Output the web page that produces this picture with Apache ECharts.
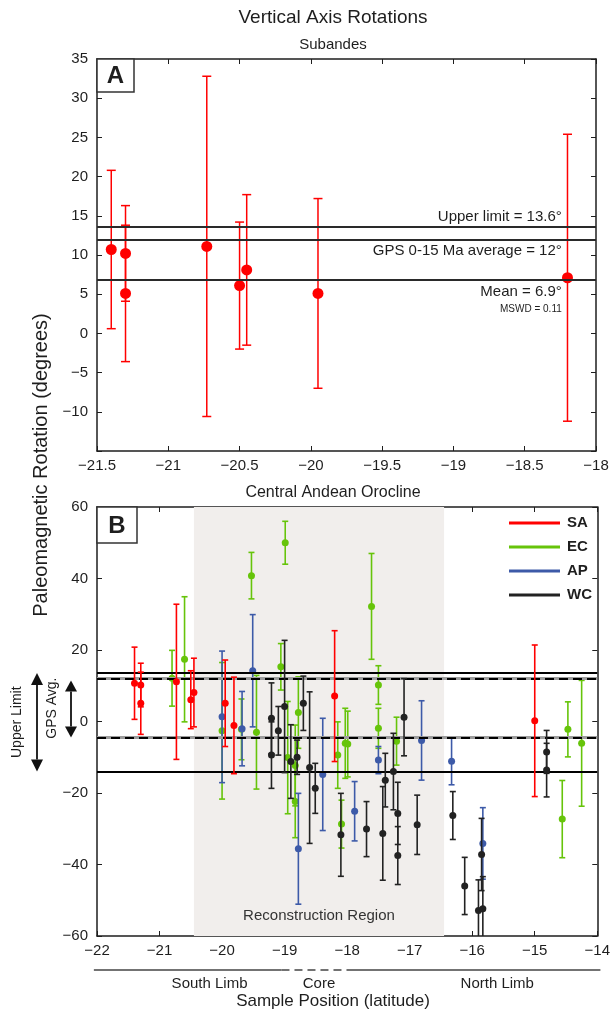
<!DOCTYPE html>
<html>
<head>
<meta charset="utf-8">
<script src="https://cdn.jsdelivr.net/npm/echarts@6/dist/echarts.min.js"></script>
<style>
  html, body { margin: 0; padding: 0; background: #fff; }
  #main { width: 613px; height: 1022px; }
</style>
</head>
<body>
<div id="main"></div>
<script>
// ---- Panel A: Subandes rotations (latitude, rotation, 2-sigma error) ----
const subLat = [-21.4, -21.3, -21.3, -20.73, -20.5, -20.45, -19.95, -18.2];
const subRot = [10.7, 10.2, 5.1, 11.1, 6.1, 8.1, 5.1, 7.1];
const subErr = [10.1, 6.1, 8.7, 21.7, 8.1, 9.6, 12.1, 18.3];
const upperLimit = 13.6;
const gpsAverage = 12;
const meanRotation = 6.9;
const refLabels = ['Upper limit = 13.6\u00b0', 'GPS 0-15 Ma average = 12\u00b0', 'Mean = 6.9\u00b0', 'MSWD = 0.11'];

// ---- Panel B: Central Andean Orocline, by tectonic domain ----
const saLat = [-21.4, -21.3, -21.3, -20.73, -20.5, -20.45, -19.95, -19.81, -18.2, -15.0];
const saRot = [10.7, 10.2, 5.1, 11.1, 6.1, 8.1, 5.1, -1.1, 7.1, 0.2];
const saErr = [10.1, 6.1, 8.7, 21.7, 8.1, 9.6, 12.1, 13.5, 18.3, 21.2];

const ecLat = [-20.8, -20.6, -20.0, -19.69, -19.53, -19.45, -19.06, -18.99, -18.95, -18.83, -18.83, -18.78,
               -18.15, -18.09, -18.03, -17.99, -17.61, -17.5, -17.5, -17.21, -14.56, -14.47, -14.25];
const ecRot = [12.1, 17.4, -2.6, -2.2, 40.8, -3.0, 15.3, 50.0, -10.1, -12.3, -22.4, 2.5,
               -9.4, -28.7, -6.1, -6.3, 32.2, 10.2, -1.9, -5.5, -27.3, -2.2, -6.1];
const ecErr = [7.8, 17.5, 19.1, 8.5, 6.5, 15.9, 6.5, 6.0, 15.7, 11.3, 10.1, 10.0,
               9.3, 6.7, 9.8, 9.2, 14.8, 5.4, 5.6, 6.7, 10.8, 7.7, 17.6];

const apLat = [-20.0, -19.68, -19.51, -18.78, -18.39, -17.88, -17.5, -16.81, -16.33, -15.83];
const apRot = [1.3, -2.0, 14.2, -35.6, -14.8, -25.1, -10.8, -5.3, -11.1, -34.1];
const apErr = [18.4, 10.4, 15.7, 15.5, 15.7, 8.3, 3.8, 11.1, 6.6, 10.0];

const wcLat = [-19.21, -19.21, -19.1, -19.0, -18.9, -18.8, -18.7, -18.6, -18.51, -18.1, -17.69, -17.43, -17.39,
               -17.26, -17.19, -17.19, -17.09, -16.88, -16.31, -16.12, -15.9, -15.85, -15.83, -14.81, -14.81];
const wcRot = [0.9, -9.4, -2.6, 4.2, -11.2, -10.0, 5.1, -12.9, -18.7, -31.7, -30.1, -31.3, -16.4,
               -14.0, -25.7, -37.5, 1.2, -28.9, -26.3, -46.0, -52.9, -37.2, -52.4, -8.5, -13.6];
const wcErr = [9.9, 9.3, 6.8, 18.5, 10.3, 4.8, 7.6, 21.2, 7.0, 11.6, 7.7, 13.1, 7.5,
               10.7, 8.7, 8.1, 10.8, 8.3, 6.7, 8.0, 8.6, 10.1, 9.0, 6.0, 7.5];

const groupNames = ['SA', 'EC', 'AP', 'WC'];
const groupColors = ['#ff0000', '#66c40a', '#3d5aa8', '#222222'];

// Reference bands in panel B
const bandUpper = [13.6, -14];     // upper limit envelope (solid)
const bandGps = [12, -4.5];        // GPS average envelope (dashed)
const reconRegion = [-20.45, -16.45];
const limbBounds = [-22.05, -19.05, -17.97, -13.95];
const limbLabels = [['South Limb', -20.2], ['Core', -18.45], ['North Limb', -15.6]];

// ---------------------------------------------------------------
const FONT = '"Liberation Sans", Arial, Helvetica, sans-serif';
const INK = '#1e1e1e';
const minus = v => String(v).replace('-', '\u2212');

function zip(a, b, c) { return a.map((v, i) => [v, b[i], c[i]]); }

function errorBars(color, cap, width) {
  return function (params, api) {
    const x = api.value(0), y = api.value(1), e = api.value(2);
    const top = api.coord([x, y + e]);
    const bot = api.coord([x, y - e]);
    const style = { stroke: color, lineWidth: width };
    return {
      type: 'group',
      children: [
        { type: 'line', shape: { x1: top[0], y1: top[1], x2: bot[0], y2: bot[1] }, style },
        { type: 'line', shape: { x1: top[0] - cap, y1: top[1], x2: top[0] + cap, y2: top[1] }, style },
        { type: 'line', shape: { x1: bot[0] - cap, y1: bot[1], x2: bot[0] + cap, y2: bot[1] }, style }
      ]
    };
  };
}

function xAx(grid, min, max, interval, show) {
  return {
    type: 'value', gridIndex: grid, min, max, interval,
    position: show ? 'bottom' : 'top',
    axisLine: { show: true, onZero: false, lineStyle: { color: INK, width: 1.5 } },
    axisTick: { show: true, inside: true, length: 5, lineStyle: { color: INK, width: 1 } },
    axisLabel: { show: show, formatter: minus, fontSize: 15, color: INK, fontFamily: FONT, margin: 7 },
    splitLine: { show: false }
  };
}
function yAx(grid, min, max, interval, show, hide) {
  return {
    type: 'value', gridIndex: grid, min, max, interval,
    position: show ? 'left' : 'right',
    axisLine: { show: true, onZero: false, lineStyle: { color: INK, width: 1.5 } },
    axisTick: { show: true, inside: true, length: 5, lineStyle: { color: INK, width: 1 } },
    axisLabel: {
      show: show, fontSize: 15, color: INK, fontFamily: FONT, margin: 9,
      formatter: v => (v === hide ? '' : minus(v))
    },
    splitLine: { show: false }
  };
}

const series = [];

// Panel A reference lines
series.push({
  type: 'line', xAxisIndex: 0, yAxisIndex: 0, data: [], silent: true, z: 2,
  markLine: {
    silent: true, symbol: ['none', 'none'], animation: false, label: { show: false },
    lineStyle: { color: '#2a2a2a', width: 2, type: 'solid' },
    data: [{ yAxis: upperLimit }, { yAxis: gpsAverage }, { yAxis: meanRotation }]
  }
});
series.push({
  type: 'custom', name: 'subErr', xAxisIndex: 0, yAxisIndex: 0, z: 3, clip: true,
  renderItem: errorBars('#ff0000', 4.5, 1.5),
  encode: { x: 0, y: 1 },
  data: zip(subLat, subRot, subErr)
});
series.push({
  type: 'scatter', name: 'subPts', xAxisIndex: 0, yAxisIndex: 0, z: 4,
  symbolSize: 11, itemStyle: { color: '#ff0000', opacity: 1 },
  data: subLat.map((v, i) => [v, subRot[i]])
});

// Panel B background region and reference bands
series.push({
  type: 'line', xAxisIndex: 2, yAxisIndex: 2, data: [], silent: true, z: 1,
  markArea: {
    silent: true, animation: false,
    itemStyle: { color: '#f1eeec' },
    data: [[{ xAxis: reconRegion[0] }, { xAxis: reconRegion[1] }]]
  }
});
series.push({
  type: 'line', xAxisIndex: 2, yAxisIndex: 2, data: [], silent: true, z: 2,
  markLine: {
    silent: true, symbol: ['none', 'none'], animation: false, label: { show: false },
    data: [
      { yAxis: bandUpper[0], lineStyle: { color: '#000', width: 2.2, type: 'solid' } },
      { yAxis: bandUpper[1], lineStyle: { color: '#000', width: 2.2, type: 'solid' } },
      { yAxis: bandGps[0], lineStyle: { color: '#9c9c9c', width: 3, type: 'solid' } },
      { yAxis: bandGps[1], lineStyle: { color: '#9c9c9c', width: 3, type: 'solid' } }
    ]
  }
});
series.push({
  type: 'line', xAxisIndex: 2, yAxisIndex: 2, data: [], silent: true, z: 2,
  markLine: {
    silent: true, symbol: ['none', 'none'], animation: false, label: { show: false },
    lineStyle: { color: '#000', width: 2, type: [9, 5] },
    data: [{ yAxis: bandGps[0] }, { yAxis: bandGps[1] }]
  }
});

const groups = [
  [saLat, saRot, saErr], [ecLat, ecRot, ecErr], [apLat, apRot, apErr], [wcLat, wcRot, wcErr]
];
const drawOrder = [1, 2, 3, 0];
drawOrder.forEach((g, k) => {
  const [la, ro, er] = groups[g];
  series.push({
    type: 'custom', name: groupNames[g] + ' error', xAxisIndex: 2, yAxisIndex: 2, z: 3 + k, clip: true,
    renderItem: errorBars(groupColors[g], 3, 1.6),
    encode: { x: 0, y: 1 },
    data: zip(la, ro, er)
  });
  series.push({
    type: 'scatter', name: groupNames[g], xAxisIndex: 2, yAxisIndex: 2, z: 3 + k, clip: true,
    symbolSize: 7, itemStyle: { color: groupColors[g], opacity: 1 },
    data: la.map((v, i) => [v, ro[i]])
  });
});

const option = {
  animation: false,
  backgroundColor: '#fff',
  textStyle: { fontFamily: FONT },
  grid: [
    { left: 97, top: 59, width: 499, height: 392 },
    { left: 97, top: 507, width: 502, height: 429 }
  ],
  xAxis: [
    xAx(0, -21.5, -18, 0.5, true), xAx(0, -21.5, -18, 0.5, false),
    xAx(1, -22, -14, 1, true), xAx(1, -22, -14, 1, false)
  ],
  yAxis: [
    yAx(0, -15, 35, 5, true, -15), yAx(0, -15, 35, 5, false),
    yAx(1, -60, 60, 20, true), yAx(1, -60, 60, 20, false)
  ],
  legend: {
    data: groupNames, orient: 'vertical', left: 504, top: 509,
    icon: 'rect', itemWidth: 51, itemHeight: 3, itemGap: 6,
    selectedMode: false,
    textStyle: { fontSize: 15, fontWeight: 'bold', color: INK, fontFamily: FONT, lineHeight: 18, padding: [0, 0, 0, 2] }
  },
  series
};

const chart = echarts.init(document.getElementById('main'));
chart.setOption(option);

// ---- Annotations placed through the axes' own scales ----
const pA = pt => chart.convertToPixel({ xAxisIndex: 0, yAxisIndex: 0 }, pt);
const pB = pt => chart.convertToPixel({ xAxisIndex: 2, yAxisIndex: 2 }, pt);

const g = [];
function text(x, y, str, size, opts) {
  g.push(Object.assign({
    type: 'text', x, y, z: 50,
    style: Object.assign({ text: str, fontSize: size, fontFamily: FONT, fill: INK, align: 'center', verticalAlign: 'middle' }, opts || {})
  }));
}

// titles
text(333, 18, 'Vertical Axis Rotations', 19);
text(333, 45, 'Subandes', 15);
text(333, 493, 'Central Andean Orocline', 16);
g.push({ type: 'text', x: 41, y: 465, rotation: Math.PI / 2, z: 50,
  style: { text: 'Paleomagnetic Rotation (degrees)', fontSize: 20, fontFamily: FONT, fill: INK, align: 'center', verticalAlign: 'middle' } });
text(333, 1001, 'Sample Position (latitude)', 17);

// panel letters
[[0, 'A'], [1, 'B']].forEach(([gi, letter]) => {
  const o = gi === 0 ? pA([-21.5, 35]) : pB([-22, 60]);
  const w = gi === 0 ? 37 : 40, h = gi === 0 ? 33 : 36;
  g.push({ type: 'rect', shape: { x: o[0], y: o[1], width: w, height: h }, z: 40,
    style: { fill: '#fff', stroke: '#333', lineWidth: 1.5 } });
  text(o[0] + w / 2, o[1] + h / 2 + 1, letter, 24, { fontWeight: 'bold' });
});

// panel A reference labels
const la = -18.24;
let q = pA([la, upperLimit]);
text(q[0], q[1] - 10, refLabels[0], 15, { align: 'right' });
q = pA([la, gpsAverage]);
text(q[0], q[1] + 12, refLabels[1], 15, { align: 'right' });
q = pA([la, meanRotation]);
text(q[0], q[1] + 13, refLabels[2], 15, { align: 'right' });
text(q[0], q[1] + 30, refLabels[3], 10, { align: 'right' });

// reconstruction region label
q = pB([(reconRegion[0] + reconRegion[1]) / 2, -54.5]);
text(q[0], q[1], 'Reconstruction Region', 15, { fill: '#333' });

// double-headed arrows for the two envelopes
function arrow(x, yTop, yBot, head, w) {
  g.push({ type: 'line', z: 45, shape: { x1: x, y1: yTop + head, x2: x, y2: yBot - head }, style: { stroke: '#111', lineWidth: 1.8 } });
  g.push({ type: 'polygon', z: 45, shape: { points: [[x, yTop], [x - w, yTop + head], [x + w, yTop + head]] }, style: { fill: '#111' } });
  g.push({ type: 'polygon', z: 45, shape: { points: [[x, yBot], [x - w, yBot - head], [x + w, yBot - head]] }, style: { fill: '#111' } });
}
const u1 = pB([-22, bandUpper[0]])[1], u2 = pB([-22, bandUpper[1]])[1];
const g1 = pB([-22, bandGps[0]])[1], g2 = pB([-22, bandGps[1]])[1];
arrow(37, u1, u2, 12, 6);
arrow(71, g1 + 2, g2, 11, 6);
g.push({ type: 'text', x: 17, y: (u1 + u2) / 2, rotation: Math.PI / 2, z: 50,
  style: { text: 'Upper Limit', fontSize: 14, fontFamily: FONT, fill: INK, align: 'center', verticalAlign: 'middle' } });
g.push({ type: 'text', x: 52, y: (g1 + g2) / 2, rotation: Math.PI / 2, z: 50,
  style: { text: 'GPS Avg.', fontSize: 14, fontFamily: FONT, fill: INK, align: 'center', verticalAlign: 'middle' } });

// limb brackets below the axis
const yL = 970;
const b = limbBounds.map(v => pB([v, 0])[0]);
g.push({ type: 'line', z: 45, shape: { x1: b[0], y1: yL, x2: b[1], y2: yL }, style: { stroke: '#444', lineWidth: 1.3 } });
g.push({ type: 'line', z: 45, shape: { x1: b[1], y1: yL, x2: b[2], y2: yL }, style: { stroke: '#444', lineWidth: 1.3, lineDash: [8, 5] } });
g.push({ type: 'line', z: 45, shape: { x1: b[2], y1: yL, x2: b[3], y2: yL }, style: { stroke: '#444', lineWidth: 1.3 } });
limbLabels.forEach(([s, v]) => { text(pB([v, 0])[0], 984, s, 15); });

chart.setOption({ graphic: g });
</script>
</body>
</html>
